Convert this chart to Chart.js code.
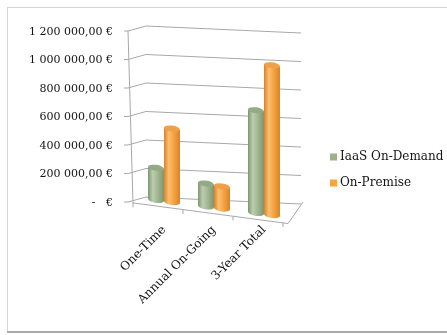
<!DOCTYPE html>
<html>
<head>
<meta charset="utf-8">
<script src="https://cdn.jsdelivr.net/npm/chart.js@4.4.1/dist/chart.umd.min.js"></script>
<style>
  html, body { margin: 0; padding: 0; background: #fff; }
  canvas { display: block; }
</style>
</head>
<body>
<canvas id="costChart" width="447" height="335"></canvas>
<script>
const categories = ['One-Time', 'Annual On-Going', '3-Year Total'];
const iaasValues = [225000, 160000, 720000];
const onPremValues = [515000, 155000, 1050000];
const seriesNames = ['IaaS On-Demand', 'On-Premise'];
const yMax = 1200000;
const yStep = 200000;

const serif = 'DejaVu Serif';
const textColor = '#141414';
const lineColor = '#a8a8a8';

// cylinder shades: edge, mid, highlight, cap
const shades = [
  { edge: '#7e9570', mid: '#a2b893', light: '#bccdb0', cap: '#93aa84', key: '#9db28b' },
  { edge: '#d9822a', mid: '#f7a341', light: '#fbbf70', cap: '#f0a048', key: '#f5a442' }
];

// fake 3D: bars drift down to the right
const SHEAR = 0.13;
const LIFT = -5.3;

const fmtEuro = (v) => {
  if (v === 0) return '-   €';
  return String(v).replace(/\B(?=(\d{3})+(?!\d))/g, ' ') + ',00 €';
};

const cylGradient = (ctx, el, s) => {
  const x0 = el.x - el.width / 2;
  const g = ctx.createLinearGradient(x0, 0, x0 + el.width, 0);
  g.addColorStop(0, s.edge);
  g.addColorStop(0.3, s.light);
  g.addColorStop(0.6, s.mid);
  g.addColorStop(1, s.edge);
  return g;
};

const cylinderPlugin = {
  id: 'cylinders',
  beforeDatasetsDraw(chart) {
    const { ctx, chartArea, scales } = chart;
    const y0 = scales.y.getPixelForValue(0);

    // back walls / gridlines (perspective)
    ctx.save();
    ctx.strokeStyle = lineColor;
    ctx.lineWidth = 1;
    scales.y.ticks.forEach((t) => {
      const y = scales.y.getPixelForValue(t.value);
      ctx.beginPath();
      ctx.moveTo(chartArea.left - 15, y - 1);
      ctx.lineTo(chartArea.left - 11, y - 1);
      ctx.lineTo(chartArea.left + 7, y - 6);
      ctx.lineTo(chartArea.right + 12, y + 1);
      ctx.stroke();
    });
    // front axis
    ctx.beginPath();
    ctx.moveTo(chartArea.left - 11, scales.y.getPixelForValue(yMax) - 1);
    ctx.lineTo(chartArea.left - 6, y0 + 1);
    ctx.stroke();
    // floor front edge + right edge
    const fy = (x) => y0 + SHEAR * (x - chartArea.left) + LIFT + 6.5;
    const fl = chartArea.left - 6;
    const fr = chartArea.right - 1;
    ctx.beginPath();
    ctx.moveTo(fl, fy(fl) - 0.5);
    ctx.lineTo(fr, fy(fr));
    ctx.lineTo(chartArea.right + 14, y0 - 1);
    ctx.stroke();
    // category ticks on floor edge
    const n = categories.length;
    const band = (chartArea.right - chartArea.left) / n;
    for (let i = 0; i <= n; i++) {
      const x = fl + i * band;
      ctx.beginPath();
      ctx.moveTo(x, fy(x));
      ctx.lineTo(x, fy(x) + 4);
      ctx.stroke();
    }
    ctx.restore();

    ctx.save();
    ctx.transform(1, SHEAR, 0, 1, 0, -SHEAR * chartArea.left + LIFT);
    chart.data.datasets.forEach((ds, di) => {
      const s = shades[di];
      chart.getDatasetMeta(di).data.forEach((el) => {
        const g = cylGradient(ctx, el, s);
        el.options.backgroundColor = g;
        ctx.fillStyle = g;
        ctx.beginPath();
        ctx.ellipse(el.x, el.base, el.width / 2, 3, 0, 0, Math.PI * 2);
        ctx.fill();
      });
    });
  },
  afterDatasetsDraw(chart) {
    const { ctx } = chart;
    chart.data.datasets.forEach((ds, di) => {
      const s = shades[di];
      chart.getDatasetMeta(di).data.forEach((el) => {
        ctx.fillStyle = s.cap;
        ctx.beginPath();
        ctx.ellipse(el.x, el.y, el.width / 2, 3, 0, 0, Math.PI * 2);
        ctx.fill();
      });
    });
    ctx.restore();
  },
  afterDraw(chart) {
    const { ctx } = chart;
    ctx.save();
    // outer frame
    ctx.strokeStyle = '#d4d4d4';
    ctx.lineWidth = 1;
    ctx.strokeRect(7.5, 7.5, 460, 324);
    ctx.strokeStyle = '#a9a9a9';
    ctx.lineWidth = 2;
    ctx.beginPath();
    ctx.moveTo(7, 332);
    ctx.lineTo(447, 332);
    ctx.stroke();
    // legend
    ctx.font = `12px "${serif}"`;
    ctx.textBaseline = 'middle';
    chart.data.datasets.forEach((ds, di) => {
      const y = 157 + di * 26;
      ctx.fillStyle = shades[di].key;
      ctx.fillRect(330, y - 3.5, 7, 7);
      ctx.fillStyle = textColor;
      ctx.fillText(ds.label, 340, y);
    });
    ctx.restore();
  }
};

const ctx = document.querySelector('#costChart');

new Chart(ctx, {
  type: 'bar',
  data: {
    labels: categories,
    datasets: [
      { label: seriesNames[0], data: iaasValues, backgroundColor: () => shades[0].mid },
      { label: seriesNames[1], data: onPremValues, backgroundColor: () => shades[1].mid }
    ]
  },
  options: {
    responsive: false,
    devicePixelRatio: 1,
    animation: false,
    categoryPercentage: 0.64,
    barPercentage: 1,
    layout: { padding: { left: 8, top: 32, right: 158, bottom: 0 } },
    plugins: {
      legend: { display: false },
      tooltip: { enabled: false }
    },
    scales: {
      x: {
        grid: { display: false },
        border: { display: false },
        ticks: {
          minRotation: 45,
          maxRotation: 45,
          padding: 12,
          color: textColor,
          font: { family: serif, size: 12 }
        },
        afterFit: (s) => { s.height = 132; }
      },
      y: {
        min: 0,
        max: yMax,
        grid: { display: false },
        border: { display: false },
        ticks: {
          stepSize: yStep,
          padding: 18,
          color: textColor,
          font: { family: serif, size: 11 },
          callback: (v) => fmtEuro(v)
        },
        afterFit: (s) => { s.width = 131; }
      }
    }
  },
  plugins: [cylinderPlugin]
});
</script>
</body>
</html>
